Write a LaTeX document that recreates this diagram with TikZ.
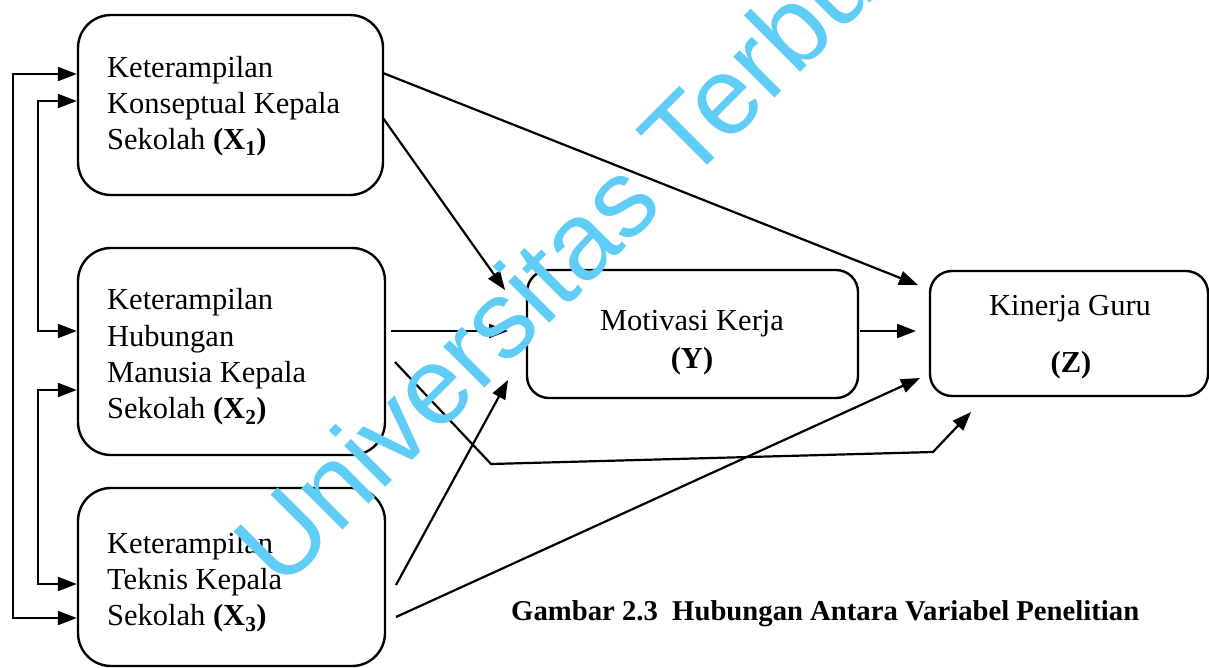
\documentclass[tikz,border=0pt]{standalone}
\usepackage{fontspec}
\setmainfont{Liberation Serif}
\newfontfamily\wmfont{Liberation Sans}
\usetikzlibrary{arrows.meta}
\definecolor{wmcyan}{RGB}{95,205,245}
\begin{document}
\begin{tikzpicture}[x=1pt,y=-1pt,
  box/.style={draw, line width=2.4pt, rounded corners=#1, inner sep=0pt},
  txt/.style={font=\fontsize{30.5}{36.3}\selectfont, align=left, inner sep=0pt, anchor=west},
  lbl/.style={font=\fontsize{30.5}{36.3}\selectfont, inner sep=0pt, anchor=base},
  tipx/.tip={Triangle[length=19pt,width=14pt]},
  arr/.style={line width=2.2pt, -tipx},
  darr/.style={line width=2.2pt, tipx-tipx}
]
\useasboundingbox[fill=white] (0,0) rectangle (1209,667);

% boxes
\node[box=33pt, minimum width=305pt, minimum height=180pt] (X1) at (230.5,105) {};
\node[box=33pt, minimum width=307pt, minimum height=207pt] (X2) at (231.5,351.5) {};
\node[box=33pt, minimum width=307pt, minimum height=178pt] (X3) at (231.5,577) {};
\node[box=22pt, minimum width=331pt, minimum height=128pt] (Y) at (692.5,334) {};
\node[box=22pt, minimum width=278pt, minimum height=125pt] (Z) at (1069,333.5) {};

% texts
\node[txt] (tx1) at (107,106) {Keterampilan\\Konseptual Kepala\\Sekolah \textbf{(X\textsubscript{1})}};
\node[txt] (tx2) at (107,357) {Keterampilan\\Hubungan\\Manusia Kepala\\Sekolah \textbf{(X\textsubscript{2})}};
\node[txt] (tx3) at (107,582) {Keterampilan\\Teknis Kepala\\Sekolah \textbf{(X\textsubscript{3})}};
\node[lbl] (ty1) at (692,330) {Motivasi Kerja};
\node[lbl] (ty2) at (692,368) {\textbf{(Y)}};
\node[lbl] (tz1) at (1070,315) {Kinerja Guru};
\node[lbl] (tz2) at (1071,372) {\textbf{(Z)}};
\node[inner sep=0pt, anchor=base west, font=\fontsize{28.7}{30}\selectfont\bfseries] (cap) at (511,620)
  {Gambar 2.3\ \ Hubungan Antara Variabel Penelitian};

% left brackets
\coordinate (ot) at (13,74);
\coordinate (ob) at (13,618);
\coordinate (i1t) at (38,101);
\coordinate (i1b) at (38,331);
\coordinate (i2t) at (38,390);
\coordinate (i2b) at (38,584);
\draw[darr] (X1.west |- ot) -- (ot) -- (ob) -- (X3.west |- ob);
\draw[darr] (X1.west |- i1t) -- (i1t) -- (i1b) -- (X2.west |- i1b);
\draw[darr] (X2.west |- i2t) -- (i2t) -- (i2b) -- (X3.west |- i2b);

% connectors
\coordinate (s1) at (383,73);   \coordinate (e1) at (918,285);
\coordinate (s2) at (383,118);  \coordinate (e2) at (505,290);
\coordinate (s3) at (391,331);  \coordinate (e3) at (508,331);
\coordinate (s4) at (395,362);  \coordinate (b4a) at (491,464); \coordinate (b4b) at (933,452); \coordinate (e4) at (971,412);
\coordinate (s5) at (396,585);  \coordinate (e5) at (508,380);
\coordinate (s6) at (396,617);  \coordinate (e6) at (920,378);
\coordinate (s7) at (860,331);  \coordinate (e7) at (916,331);
\draw[arr] (s1) -- (e1);
\draw[arr] (s2) -- (e2);
\draw[arr] (s3) -- (e3);
\draw[arr] (s4) -- (b4a) -- (b4b) -- (e4);
\draw[arr] (s5) -- (e5);
\draw[arr] (s6) -- (e6);
\draw[arr] (s7) -- (e7);

% watermark
\begin{scope}
\clip (0,0) rectangle (1209,667);
\node[inner sep=0pt, anchor=base west, rotate=45, text=wmcyan, font=\fontsize{110}{110}\selectfont\wmfont] (wmk) at (281,592) {Universitas Terbuka};
\end{scope}
\end{tikzpicture}
\end{document}
